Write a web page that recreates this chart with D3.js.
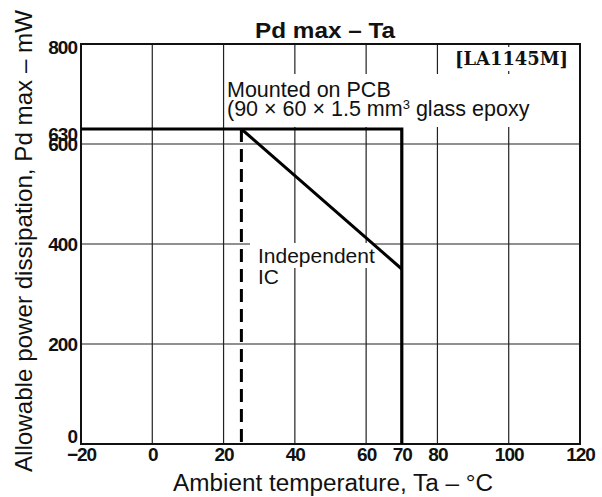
<!DOCTYPE html>
<html>
<head>
<meta charset="utf-8">
<script src="https://cdn.jsdelivr.net/npm/d3@7"></script>
<style>
body { margin: 0; background: #fff; }
text { fill: #111; }
</style>
</head>
<body>
<svg id="chart"></svg>
<script>
// tick values
var xTicks = [-20, 0, 20, 40, 60, 70, 80, 100, 120];
var yTicks = [0, 200, 400, 600, 630, 800];
var xGrid = [0, 20, 40, 60, 80, 100];
var yGrid = [200, 400, 600];

// mounted on PCB curve
var pcbTemp = [-20, 70, 70];
var pcbPd = [630, 630, 0];
// independent IC curve
var icTemp = [25, 70];
var icPd = [630, 350];
// dashed drop line at 25 C
var dashTemp = [25, 25];
var dashPd = [630, 0];

var chartWidth = 602,
	chartHeight = 497;

var chart = d3.select('#chart')
	.attr('width', chartWidth)
	.attr('height', chartHeight);

var xScale = d3.scaleLinear().domain([-20, 120]).range([81, 580]);
var yScale = d3.scaleLinear().domain([0, 800]).range([444, 44]);

// grid lines
var grid = chart.append('g').attr('stroke', '#222').attr('stroke-width', 1.2);
grid.selectAll('.vg').data(xGrid).enter().append('line')
	.attr('x1', function(d){ return xScale(d); })
	.attr('x2', function(d){ return xScale(d); })
	.attr('y1', yScale(800)).attr('y2', yScale(0));
grid.selectAll('.hg').data(yGrid).enter().append('line')
	.attr('y1', function(d){ return yScale(d); })
	.attr('y2', function(d){ return yScale(d); })
	.attr('x1', xScale(-20)).attr('x2', xScale(120));

// white patches behind the in-plot labels (they cut the grid in the original)
var patches = [[226, 74, 310, 53], [452, 47, 122, 24], [250, 243, 122, 25], [250, 268, 40, 22]];
chart.selectAll('.patch').data(patches).enter().append('rect')
	.attr('x', function(d){ return d[0]; })
	.attr('y', function(d){ return d[1]; })
	.attr('width', function(d){ return d[2]; })
	.attr('height', function(d){ return d[3]; })
	.attr('fill', '#fff');

// frame
chart.append('rect')
	.attr('x', xScale(-20)).attr('y', yScale(800))
	.attr('width', xScale(120) - xScale(-20))
	.attr('height', yScale(0) - yScale(800))
	.attr('fill', 'none').attr('stroke', '#111').attr('stroke-width', 2);

// data lines
var line = d3.line()
	.x(function(d){ return xScale(d[0]); })
	.y(function(d){ return yScale(d[1]); });

chart.append('path')
	.datum(d3.zip(pcbTemp, pcbPd))
	.attr('d', line)
	.attr('fill', 'none').attr('stroke', '#000').attr('stroke-width', 3.2)
	.attr('stroke-linejoin', 'miter');

chart.append('path')
	.datum(d3.zip(icTemp, icPd))
	.attr('d', line)
	.attr('fill', 'none').attr('stroke', '#000').attr('stroke-width', 3);

chart.append('path')
	.datum(d3.zip(dashTemp, dashPd))
	.attr('d', line)
	.attr('fill', 'none').attr('stroke', '#000').attr('stroke-width', 3)
	.attr('stroke-dasharray', '13,7');

// axes (labels only, frame and grid drawn above)
var tickFont = function(g){
	g.select('.domain').remove();
	g.attr('font-family', 'Liberation Sans, Arial, sans-serif')
		.attr('font-size', 19)
		.attr('font-weight', 'bold');
	g.selectAll('text').attr('letter-spacing', -1).attr('fill', '#111');
};

chart.append('g')
	.attr('transform', 'translate(0,' + yScale(0) + ')')
	.call(d3.axisBottom(xScale).tickValues(xTicks).tickSize(0).tickPadding(3))
	.call(tickFont);

var yOffsets = {800: 3, 630: 5, 0: -8};
chart.append('g')
	.attr('transform', 'translate(' + xScale(-20) + ',0)')
	.call(d3.axisLeft(yScale).tickValues(yTicks).tickSize(0).tickPadding(4))
	.call(tickFont)
	.selectAll('text')
		.attr('y', function(d){ return yOffsets[d] || 0; });

// titles
chart.append('text')
	.attr('x', 325).attr('y', 38)
	.attr('text-anchor', 'middle')
	.attr('font-family', 'Liberation Sans, Arial, sans-serif')
	.attr('font-weight', 'bold').attr('font-size', 22)
	.attr('textLength', 140).attr('lengthAdjust', 'spacingAndGlyphs')
	.text('Pd max – Ta');

chart.append('text')
	.attr('x', 568).attr('y', 65)
	.attr('text-anchor', 'end')
	.attr('font-family', 'DejaVu Serif, Liberation Serif, serif')
	.attr('font-size', 19)
	.attr('font-weight', 'bold')
	.attr('textLength', 113).attr('lengthAdjust', 'spacingAndGlyphs')
	.text('[LA1145M]');

chart.append('text')
	.attr('x', 173).attr('y', 491)
	.attr('font-family', 'Liberation Sans, Arial, sans-serif')
	.attr('font-size', 23)
	.attr('textLength', 320).attr('lengthAdjust', 'spacingAndGlyphs')
	.text('Ambient temperature, Ta – °C');

chart.append('text')
	.attr('transform', 'translate(32,241) rotate(-90)')
	.attr('text-anchor', 'middle')
	.attr('font-family', 'Liberation Sans, Arial, sans-serif')
	.attr('font-size', 24)
	.attr('textLength', 462).attr('lengthAdjust', 'spacingAndGlyphs')
	.text('Allowable power dissipation, Pd max – mW');

// in-plot notes
var note = chart.append('g')
	.attr('font-family', 'Liberation Sans, Arial, sans-serif')
	.attr('font-size', 21.5);
note.append('text').attr('x', 227).attr('y', 97).text('Mounted on PCB');
var l2 = note.append('text').attr('x', 227).attr('y', 116);
l2.append('tspan').text('(90 × 60 × 1.5 mm');
l2.append('tspan').attr('dy', -7).attr('font-size', 13).text('3');
l2.append('tspan').attr('dy', 7).text(' glass epoxy');

var ic = chart.append('g')
	.attr('font-family', 'Liberation Sans, Arial, sans-serif')
	.attr('font-size', 21);
ic.append('text').attr('x', 258).attr('y', 263).text('Independent');
ic.append('text').attr('x', 258).attr('y', 284).text('IC');
</script>
</body>
</html>
